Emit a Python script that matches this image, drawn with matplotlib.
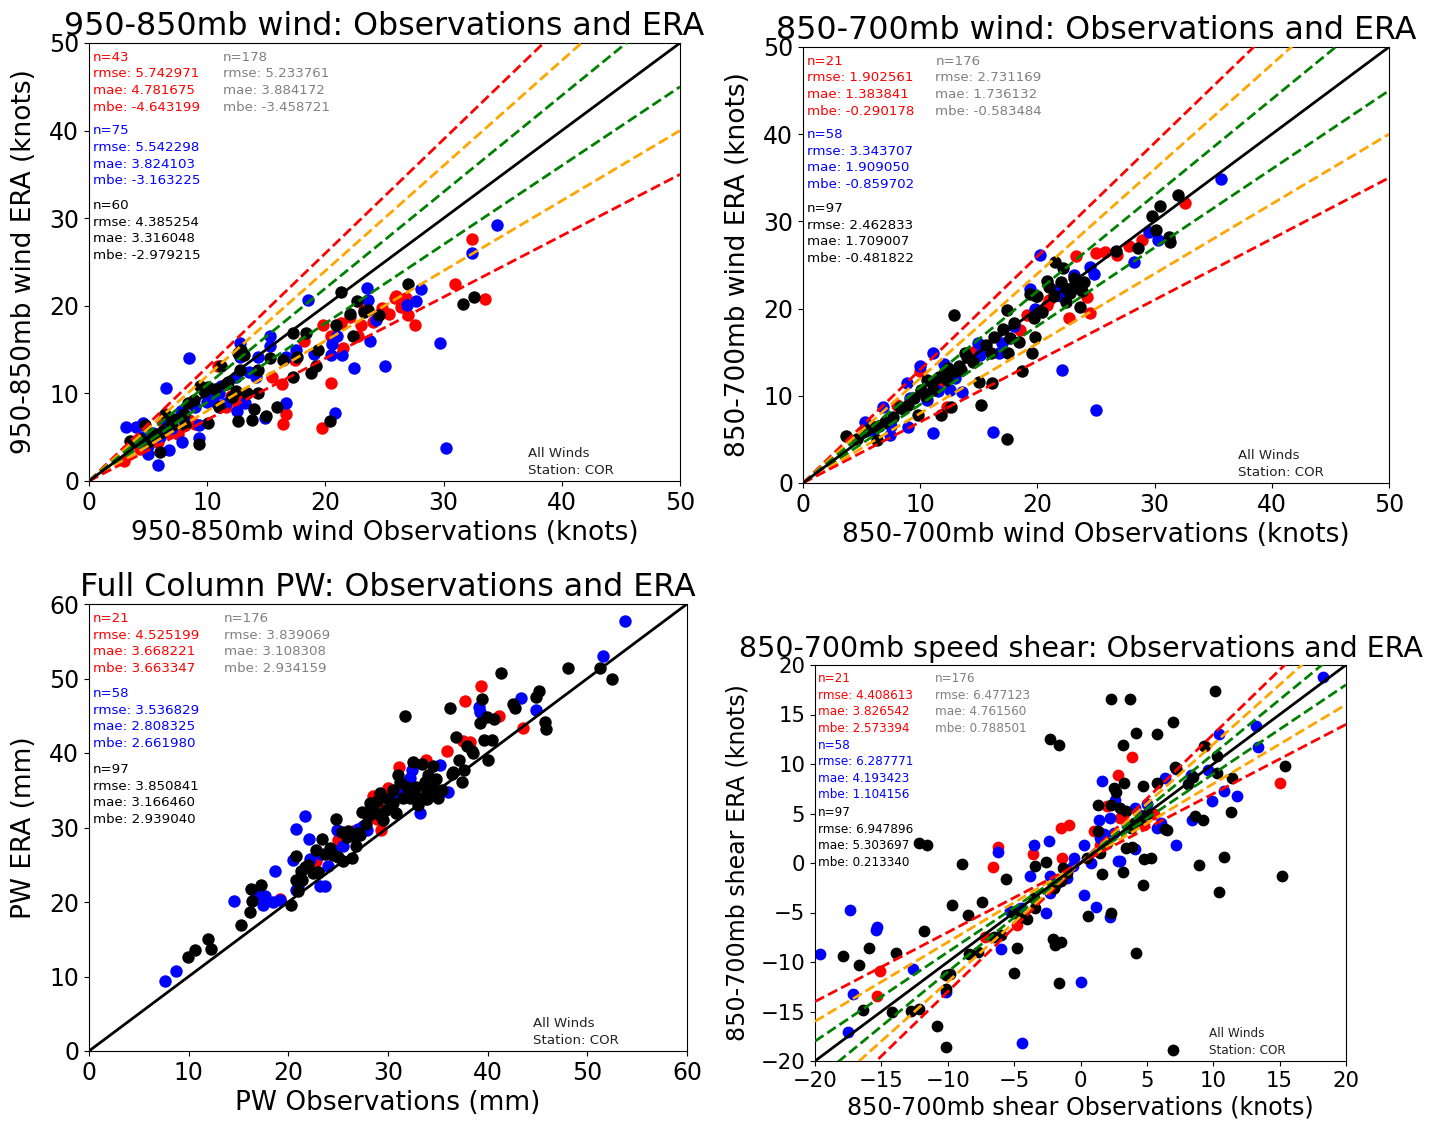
import matplotlib
matplotlib.use('Agg')
import matplotlib.pyplot as plt
import numpy as np

# ---- 950-850mb wind (top left) ----
tl_red_x = [32.4, 31.0, 33.5, 27.6, 26.0, 26.4, 25.4, 24.8, 23.3, 22.1, 21.3, 19.8, 20.5, 21.5, 18.2,
            15.5, 16.3, 20.5, 16.7, 16.4, 19.7, 11.6, 12.0, 10.9, 14.1, 17.4, 5.8, 6.6, 4.3, 6.2,
            27.0, 24.0, 22.8, 13.0, 11.0, 9.0, 7.5, 3.0, 8.5, 26.8, 25.9, 23.0, 12.5]
tl_red_y = [27.6, 22.5, 20.8, 17.8, 21.1, 19.9, 19.1, 19.7, 19.5, 18.7, 18.0, 17.8, 16.6, 15.2, 16.0,
            11.9, 11.1, 11.2, 7.6, 6.5, 6.1, 8.4, 9.7, 13.1, 12.3, 13.8, 4.4, 5.6, 3.6, 6.8,
            19.0, 18.2, 16.5, 9.5, 8.6, 6.5, 5.4, 2.3, 7.0, 20.9, 20.9, 17.8, 9.0]
tl_blue_x = [34.5, 32.4, 28.1, 27.7, 26.9, 23.5, 23.6, 18.5, 24.3, 23.8, 25.0, 29.7, 30.2, 22.4, 21.4,
             20.5, 20.6, 20.8, 16.7, 15.3, 15.3, 14.3, 12.8, 12.8, 12.4, 12.5, 13.2, 14.9, 16.7, 14.1,
             8.5, 6.5, 3.1, 4.0, 4.6, 5.4, 5.0, 5.8, 6.8, 7.9, 9.3, 7.8, 10.5, 6.6, 11.2,
             10.2, 3.7, 9.3, 11.6, 7.0, 8.0, 9.0, 6.0, 5.0, 4.5, 10.0, 11.0, 13.5, 17.5, 19.0, 21.0]
tl_blue_y = [29.2, 26.0, 21.9, 20.5, 20.1, 22.0, 20.7, 20.7, 18.4, 16.0, 13.1, 15.7, 3.8, 12.9, 14.4,
             14.4, 15.6, 7.8, 14.2, 16.5, 15.4, 14.2, 15.8, 14.2, 11.9, 8.0, 8.9, 7.2, 8.9, 11.9,
             14.0, 10.6, 6.2, 6.2, 6.6, 5.5, 3.1, 1.8, 3.5, 4.5, 4.9, 8.0, 9.1, 6.4, 10.9,
             10.3, 4.4, 6.4, 8.9, 6.0, 7.0, 8.5, 5.0, 4.0, 5.0, 9.0, 10.0, 12.5, 15.0, 14.5, 16.5]
tl_black_x = [27.0, 21.3, 22.7, 31.6, 32.6, 22.1, 23.3, 22.3, 20.9, 18.4, 17.3, 19.4, 17.6, 19.2, 18.8,
              17.3, 14.3, 12.6, 11.2, 12.8, 11.6, 12.4, 13.4, 14.3, 9.7, 10.1, 8.9, 8.0, 8.1, 11.0,
              10.1, 12.6, 13.8, 15.0, 15.9, 14.0, 20.4, 9.3, 6.0, 4.7, 5.4, 6.4, 3.5, 4.3, 5.0,
              15.3, 13.1, 11.8, 9.4, 7.1, 6.2, 5.6, 24.5, 23.6, 12.9, 10.7, 8.4, 7.0, 12.1, 16.4]
tl_black_y = [22.5, 21.6, 20.6, 20.2, 21.0, 19.1, 19.3, 16.6, 17.8, 16.9, 16.9, 15.0, 14.2, 13.1, 12.3,
              11.9, 12.7, 14.6, 13.1, 12.7, 11.1, 10.3, 10.1, 10.1, 10.3, 10.7, 9.3, 7.6, 6.4, 8.4,
              6.6, 6.8, 7.0, 7.4, 8.4, 8.2, 6.9, 4.2, 3.3, 6.4, 5.2, 7.6, 4.6, 4.8, 4.4,
              14.0, 14.4, 11.3, 10.8, 7.1, 5.6, 5.2, 19.0, 19.5, 15.0, 10.5, 8.9, 6.4, 9.6, 13.8]
tl_stats_red = ['n=43', 'rmse: 5.742971', 'mae: 4.781675', 'mbe: -4.643199']
tl_stats_blue = ['n=75', 'rmse: 5.542298', 'mae: 3.824103', 'mbe: -3.163225']
tl_stats_black = ['n=60', 'rmse: 4.385254', 'mae: 3.316048', 'mbe: -2.979215']
tl_stats_all = ['n=178', 'rmse: 5.233761', 'mae: 3.884172', 'mbe: -3.458721']

# ---- 850-700mb wind (top right) ----
tr_red_x = [32.6, 23.3, 25.0, 25.8, 26.8, 27.8, 28.9, 24.2, 24.5, 22.7, 19.1, 20.8, 12.3, 10.0, 22.0,
            18.5, 8.0, 6.0, 14.5, 11.5, 21.0]
tr_red_y = [32.1, 26.0, 26.4, 26.5, 26.2, 27.2, 27.9, 21.3, 19.5, 18.9, 19.3, 20.4, 8.7, 12.8, 22.5,
            17.5, 9.0, 6.5, 15.0, 11.0, 21.0]
tr_blue_x = [35.7, 20.2, 29.5, 30.3, 28.2, 24.8, 23.1, 24.5, 19.4, 19.8, 22.1, 25.0, 16.2, 11.1, 13.6,
             11.1, 10.0, 8.9, 9.1, 6.8, 5.3, 7.4, 9.0, 14.9, 16.7, 15.1, 12.0, 12.5, 10.6, 21.6,
             23.3, 18.0, 22.0, 13.0, 11.5, 7.5, 6.0, 17.0]
tr_blue_y = [34.9, 26.1, 28.8, 27.9, 25.3, 24.0, 23.9, 24.8, 22.3, 20.0, 13.0, 8.4, 5.9, 5.7, 10.4,
             14.9, 13.4, 11.5, 9.7, 8.7, 7.0, 5.5, 6.4, 16.1, 14.9, 14.7, 13.7, 10.7, 9.5, 22.1,
             22.8, 18.0, 21.5, 12.0, 10.5, 6.5, 6.0, 16.0]
tr_black_x = [32.0, 30.5, 29.8, 30.1, 31.2, 31.3, 28.6, 26.7, 21.5, 22.2, 20.8, 23.1, 22.5, 23.3, 23.8,
              22.8, 19.4, 19.9, 21.4, 22.4, 23.6, 20.4, 17.4, 12.9, 19.7, 18.0, 17.1, 17.7, 18.4, 19.8,
              16.3, 15.6, 16.0, 17.5, 19.5, 13.8, 14.5, 13.3, 13.0, 12.4, 12.3, 11.6, 10.6, 10.1, 11.1,
              15.0, 16.1, 18.7, 15.2, 17.4, 12.6, 11.8, 9.8, 8.3, 7.7, 5.9, 5.3, 3.7, 4.6, 6.3,
              7.0, 8.5, 9.5, 10.5, 11.0, 12.0, 13.5, 14.0, 21.0, 20.0, 6.5, 9.0, 24.0, 22.0]
tr_black_y = [33.0, 31.8, 30.6, 29.0, 28.2, 27.6, 26.9, 26.6, 25.3, 24.6, 23.2, 23.5, 22.2, 22.5, 22.0,
              21.8, 21.7, 21.4, 21.4, 20.8, 20.2, 19.6, 19.8, 19.3, 18.9, 18.3, 17.7, 16.6, 16.2, 16.8,
              16.8, 15.8, 14.9, 14.9, 14.9, 14.9, 13.9, 13.4, 12.8, 13.2, 11.8, 12.2, 11.8, 10.7, 10.7,
              11.6, 11.5, 12.9, 9.0, 5.0, 8.7, 7.8, 7.8, 8.7, 7.6, 6.4, 6.0, 5.4, 5.1, 4.9,
              7.0, 8.5, 9.8, 10.0, 11.5, 12.5, 13.0, 14.5, 22.5, 21.5, 6.5, 9.0, 23.0, 23.0]
tr_stats_red = ['n=21', 'rmse: 1.902561', 'mae: 1.383841', 'mbe: -0.290178']
tr_stats_blue = ['n=58', 'rmse: 3.343707', 'mae: 1.909050', 'mbe: -0.859702']
tr_stats_black = ['n=97', 'rmse: 2.462833', 'mae: 1.709007', 'mbe: -0.481822']
tr_stats_all = ['n=176', 'rmse: 2.731169', 'mae: 1.736132', 'mbe: -0.583484']

# ---- Full column PW (bottom left) ----
bl_red_x = [39.3, 37.7, 41.1, 43.5, 38.2, 35.9, 33.8, 31.1, 30.0, 28.5, 28.9, 29.3, 22.8, 19.2, 31.0,
            29.0, 37.5, 33.7, 25.0, 26.5, 34.5]
bl_red_y = [49.0, 47.0, 44.9, 43.4, 41.5, 40.3, 39.1, 38.1, 35.3, 34.2, 31.2, 29.7, 25.5, 20.4, 35.0,
            33.0, 41.6, 33.8, 28.3, 29.5, 36.0]
bl_blue_x = [53.8, 51.6, 43.3, 44.8, 39.1, 39.2, 36.0, 35.2, 32.4, 32.2, 33.2, 21.7, 20.8, 22.1, 24.9,
             27.0, 27.9, 26.2, 23.3, 24.5, 22.2, 20.5, 24.0, 18.7, 20.8, 23.2, 23.7, 14.5, 17.7, 17.5,
             18.5, 19.2, 16.8, 8.7, 7.6, 23.0, 25.5, 27.5, 31.0, 21.0]
bl_blue_y = [57.7, 53.0, 47.4, 45.8, 46.2, 45.5, 34.8, 38.4, 37.7, 36.6, 31.9, 31.6, 29.8, 28.4, 29.6,
             29.8, 29.6, 29.2, 26.5, 27.0, 25.8, 25.6, 24.8, 24.1, 21.6, 22.1, 22.1, 20.2, 20.8, 19.6,
             20.0, 20.3, 21.0, 10.7, 9.4, 24.0, 27.5, 30.2, 34.5, 22.0]
bl_black_x = [41.3, 48.1, 51.3, 52.5, 44.8, 45.2, 42.5, 42.7, 45.8, 45.9, 39.4, 36.2, 31.7, 39.9, 40.6,
              39.2, 36.8, 39.6, 40.4, 37.9, 38.4, 40.0, 37.1, 37.4, 36.4, 37.6, 32.5, 33.4, 34.5, 31.2,
              31.9, 32.5, 33.7, 33.9, 34.5, 33.9, 35.4, 33.2, 32.2, 29.2, 30.0, 30.5, 28.9, 29.8, 28.2,
              27.4, 28.0, 27.0, 26.7, 25.9, 25.4, 24.8, 24.2, 23.7, 25.0, 26.4, 24.5, 20.8, 21.7, 22.5,
              21.3, 20.8, 21.4, 17.3, 16.3, 16.4, 16.2, 15.3, 20.3, 11.9, 12.2, 10.6, 9.9, 23.4,
              30.5, 31.5, 32.8, 34.0, 28.5, 27.8, 26.0, 22.0, 23.0, 35.0, 36.5, 29.5, 22.8, 30.8, 33.0,
              38.5, 26.8, 27.2, 31.0, 34.8, 25.5, 29.0, 21.0]
bl_black_y = [50.7, 51.4, 51.4, 49.9, 47.5, 48.3, 46.6, 46.0, 44.1, 43.2, 47.2, 46.0, 45.0, 44.8, 44.5,
              44.0, 42.2, 41.8, 41.7, 40.9, 40.3, 39.1, 39.0, 36.1, 37.2, 37.7, 38.8, 38.5, 38.2, 36.1,
              35.5, 34.9, 36.1, 34.9, 35.2, 33.8, 35.0, 33.9, 33.9, 34.6, 33.8, 33.3, 33.5, 32.4, 33.3,
              32.1, 31.5, 29.2, 28.7, 28.7, 29.4, 31.2, 27.2, 26.5, 26.1, 25.9, 26.3, 26.2, 24.7, 23.9,
              24.2, 22.9, 22.9, 22.3, 21.7, 20.2, 18.6, 16.9, 19.6, 15.1, 13.7, 13.6, 12.6, 28.4,
              35.0, 34.0, 35.5, 37.0, 32.5, 30.5, 29.5, 25.0, 24.0, 34.0, 37.5, 31.0, 27.0, 32.0, 33.0,
              40.0, 27.5, 29.0, 37.0, 36.5, 25.5, 31.8, 21.5]
bl_stats_red = ['n=21', 'rmse: 4.525199', 'mae: 3.668221', 'mbe: 3.663347']
bl_stats_blue = ['n=58', 'rmse: 3.536829', 'mae: 2.808325', 'mbe: 2.661980']
bl_stats_black = ['n=97', 'rmse: 3.850841', 'mae: 3.166460', 'mbe: 2.939040']
bl_stats_all = ['n=176', 'rmse: 3.839069', 'mae: 3.108308', 'mbe: 2.934159']

# ---- 850-700mb speed shear (bottom right) ----
br_red_x = [3.9, 2.8, 15.0, 9.4, -1.5, -0.9, -6.2, -6.6, -3.6, -1.4, 4.8, -4.8, -15.1, -15.3,
            2.0, -2.0, 1.5, 5.5, -7.2, 3.0, 1.0]
br_red_y = [10.7, 8.9, 8.1, 11.8, 3.5, 3.8, 1.6, -0.4, 0.9, 0.5, 3.8, -6.3, -10.9, -13.4,
            5.8, -2.5, 1.8, 5.0, -7.5, 4.5, 3.2]
br_blue_x = [18.3, 13.2, 13.4, 10.4, 9.6, 8.3, 6.4, 7.2, 1.6, 10.8, 11.8, 9.9, 8.4, 7.2, 5.8,
             6.1, 4.1, 2.2, 2.6, 1.4, 1.8, 2.8, 3.0, 4.1, 0.3, 0.8, -0.6, -2.3, -2.4, -3.5,
             -3.8, -6.2, -2.3, -5.3, -2.6, 0.3, 1.2, 2.2, 0.0, -6.0, -12.6, -17.4, -15.3, -15.4, -19.6,
             -17.1, -17.5, -10.1, -4.4, -1.0, 3.5, -4.5, 1.5, 5.0, -0.5, 2.5, -1.8, 4.5]
br_blue_y = [18.8, 13.8, 11.7, 13.0, 9.4, 8.9, 8.6, 9.5, 8.3, 7.3, 6.8, 6.3, 4.3, 1.8, 3.5,
             4.0, 5.6, 4.5, 6.4, 4.3, 2.9, 0.2, 0.2, 1.4, 1.8, 0.0, -0.3, -1.3, 2.2, 1.8,
             -1.3, 1.1, -3.0, -4.8, -5.1, -3.2, -4.4, -5.5, -12.0, -8.7, -10.7, -4.7, -6.5, -6.8, -9.2,
             -13.2, -17.1, -13.0, -18.2, -1.5, 3.8, -4.5, 2.5, 6.0, 0.5, 3.0, -2.0, 4.8]
br_black_x = [10.1, 2.3, 3.7, 7.0, 5.8, 4.2, 3.2, -2.3, -1.6, 10.3, 15.4, 7.2, 10.3, 11.4, 8.1,
              5.8, 4.7, 3.3, 2.5, 2.7, 1.3, 2.3, 3.0, 3.4, 11.3, 8.6, 9.2, 4.5, 1.3, 6.4,
              3.4, 3.9, 10.8, 4.8, 5.3, 8.9, 15.2, 3.2, 1.6, 4.7, 10.4, -2.6, -3.4, -1.3, -5.6,
              -8.9, -12.2, -11.6, -7.4, -9.7, -8.5, -11.8, -15.9, -13.9, -17.9, -16.7, -10.1, -5.0, -4.8, -4.0,
              -3.4, -2.1, -1.9, -1.5, -1.6, 0.6, 2.3, 4.2, -8.4, -7.7, -6.0, -16.4, -14.2, -12.8, -12.2,
              -10.1, -10.8, -10.1, 7.0, 9.3, -1.5, -2.0, -1.0, 4.0, 5.0, 2.0, -5.0, -3.5, 6.5, 8.5,
              0.5, -4.5, 1.5, -6.5, 3.8, 7.1, -9.8]
br_black_y = [17.4, 16.6, 16.6, 14.2, 13.0, 13.1, 11.9, 12.5, 11.9, 10.8, 9.8, 9.6, 9.1, 8.6, 8.0,
              8.1, 7.8, 8.1, 7.6, 7.2, 5.9, 5.9, 5.6, 5.3, 5.2, 4.7, 4.3, 4.4, 3.2, 3.4,
              1.5, 1.6, 0.6, 0.4, 0.5, -0.2, -1.3, -0.9, -1.1, -2.2, -2.9, 0.1, -0.3, -0.5, -1.6,
              -0.1, 2.0, 1.8, -3.9, -4.2, -5.3, -6.9, -8.6, -9.1, -9.4, -10.3, -11.3, -11.1, -8.6, -5.7,
              -4.5, -7.7, -8.3, -8.0, -12.1, -5.4, -5.1, -9.1, -9.2, -9.0, -7.3, -14.8, -15.0, -14.9, -14.7,
              -12.7, -16.5, -18.6, -18.9, 11.8, -1.8, -2.5, -1.0, 4.0, 5.0, 2.0, -5.0, -3.5, 3.3, 8.7,
              0.5, -5.5, 1.0, -7.5, 3.5, 9.7, -11.2]
br_stats_red = ['n=21', 'rmse: 4.408613', 'mae: 3.826542', 'mbe: 2.573394']
br_stats_blue = ['n=58', 'rmse: 6.287771', 'mae: 4.193423', 'mbe: 1.104156']
br_stats_black = ['n=97', 'rmse: 6.947896', 'mae: 5.303697', 'mbe: 0.213340']
br_stats_all = ['n=176', 'rmse: 6.477123', 'mae: 4.761560', 'mbe: 0.788501']

# ratio lines (ERA / obs)
ratios = [1.3, 1.2, 1.1, 0.9, 0.8, 0.7]
ratio_colors = ['red', 'orange', 'green', 'green', 'orange', 'red']


def panel(ax, pts, stats, lims, title, xlabel, ylabel, guides=True, scale=1.0, yticks=None):
    for (x, y), c in zip(pts, ['red', 'blue', 'black']):
        ax.scatter(x, y, s=80 * scale, c=c, linewidths=0, zorder=2)
    xx = np.array(lims, dtype=float)
    if guides:
        for r, c in zip(ratios, ratio_colors):
            ax.plot(xx, r * xx, '--', color=c, lw=2, zorder=3)
    ax.plot(xx, xx, '-', color='black', lw=2, zorder=3)
    ax.set_xlim(lims)
    ax.set_ylim(lims)
    if yticks is not None:
        ax.set_yticks(yticks)
    fs = 9.6 * scale
    kw = dict(fontsize=fs, va='top', linespacing=1.36, transform=ax.transAxes)
    ax.text(0.006, 0.982, '\n'.join(stats[0]), color='red', **kw)
    ax.text(0.006, 0.814, '\n'.join(stats[1]), color='blue', **kw)
    ax.text(0.006, 0.644, '\n'.join(stats[2]), color='black', **kw)
    ax.text(0.226, 0.982, '\n'.join(stats[3]), color='gray', **kw)
    ax.text(0.742, 0.01, 'All Winds\nStation: COR', color='#222222', fontsize=fs, va='bottom',
            linespacing=1.36, transform=ax.transAxes)
    ax.set_title(title, fontsize=22.8 * scale)
    ax.set_xlabel(xlabel, fontsize=19 * scale, labelpad=4 * scale)
    ax.set_ylabel(ylabel, fontsize=19 * scale, labelpad=9 * scale)
    ax.tick_params(labelsize=17 * scale)


fig = plt.figure(figsize=(14.4, 11.24), dpi=100)
W, H = 1440, 1124


def box(l, t, r, b):
    return [l / W, (H - b) / H, (r - l) / W, (b - t) / H]


ax1 = fig.add_axes(box(89, 43, 680, 481))
panel(ax1, [(tl_red_x, tl_red_y), (tl_blue_x, tl_blue_y), (tl_black_x, tl_black_y)],
      [tl_stats_red, tl_stats_blue, tl_stats_black, tl_stats_all], [0, 50],
      '950-850mb wind: Observations and ERA', '950-850mb wind Observations (knots)',
      '950-850mb wind ERA (knots)')

ax2 = fig.add_axes(box(803, 47, 1389, 483))
panel(ax2, [(tr_red_x, tr_red_y), (tr_blue_x, tr_blue_y), (tr_black_x, tr_black_y)],
      [tr_stats_red, tr_stats_blue, tr_stats_black, tr_stats_all], [0, 50],
      '850-700mb wind: Observations and ERA', '850-700mb wind Observations (knots)',
      '850-700mb wind ERA (knots)')

ax3 = fig.add_axes(box(89, 604, 687, 1051))
panel(ax3, [(bl_red_x, bl_red_y), (bl_blue_x, bl_blue_y), (bl_black_x, bl_black_y)],
      [bl_stats_red, bl_stats_blue, bl_stats_black, bl_stats_all], [0, 60],
      'Full Column PW: Observations and ERA', 'PW Observations (mm)', 'PW ERA (mm)', guides=False)

ax4 = fig.add_axes(box(815, 665, 1346, 1061))
panel(ax4, [(br_red_x, br_red_y), (br_blue_x, br_blue_y), (br_black_x, br_black_y)],
      [br_stats_red, br_stats_blue, br_stats_black, br_stats_all], [-20, 20],
      '850-700mb speed shear: Observations and ERA', '850-700mb shear Observations (knots)',
      '850-700mb shear ERA (knots)', scale=0.9, yticks=range(-20, 21, 5))

fig.savefig('out.png', dpi=100)
